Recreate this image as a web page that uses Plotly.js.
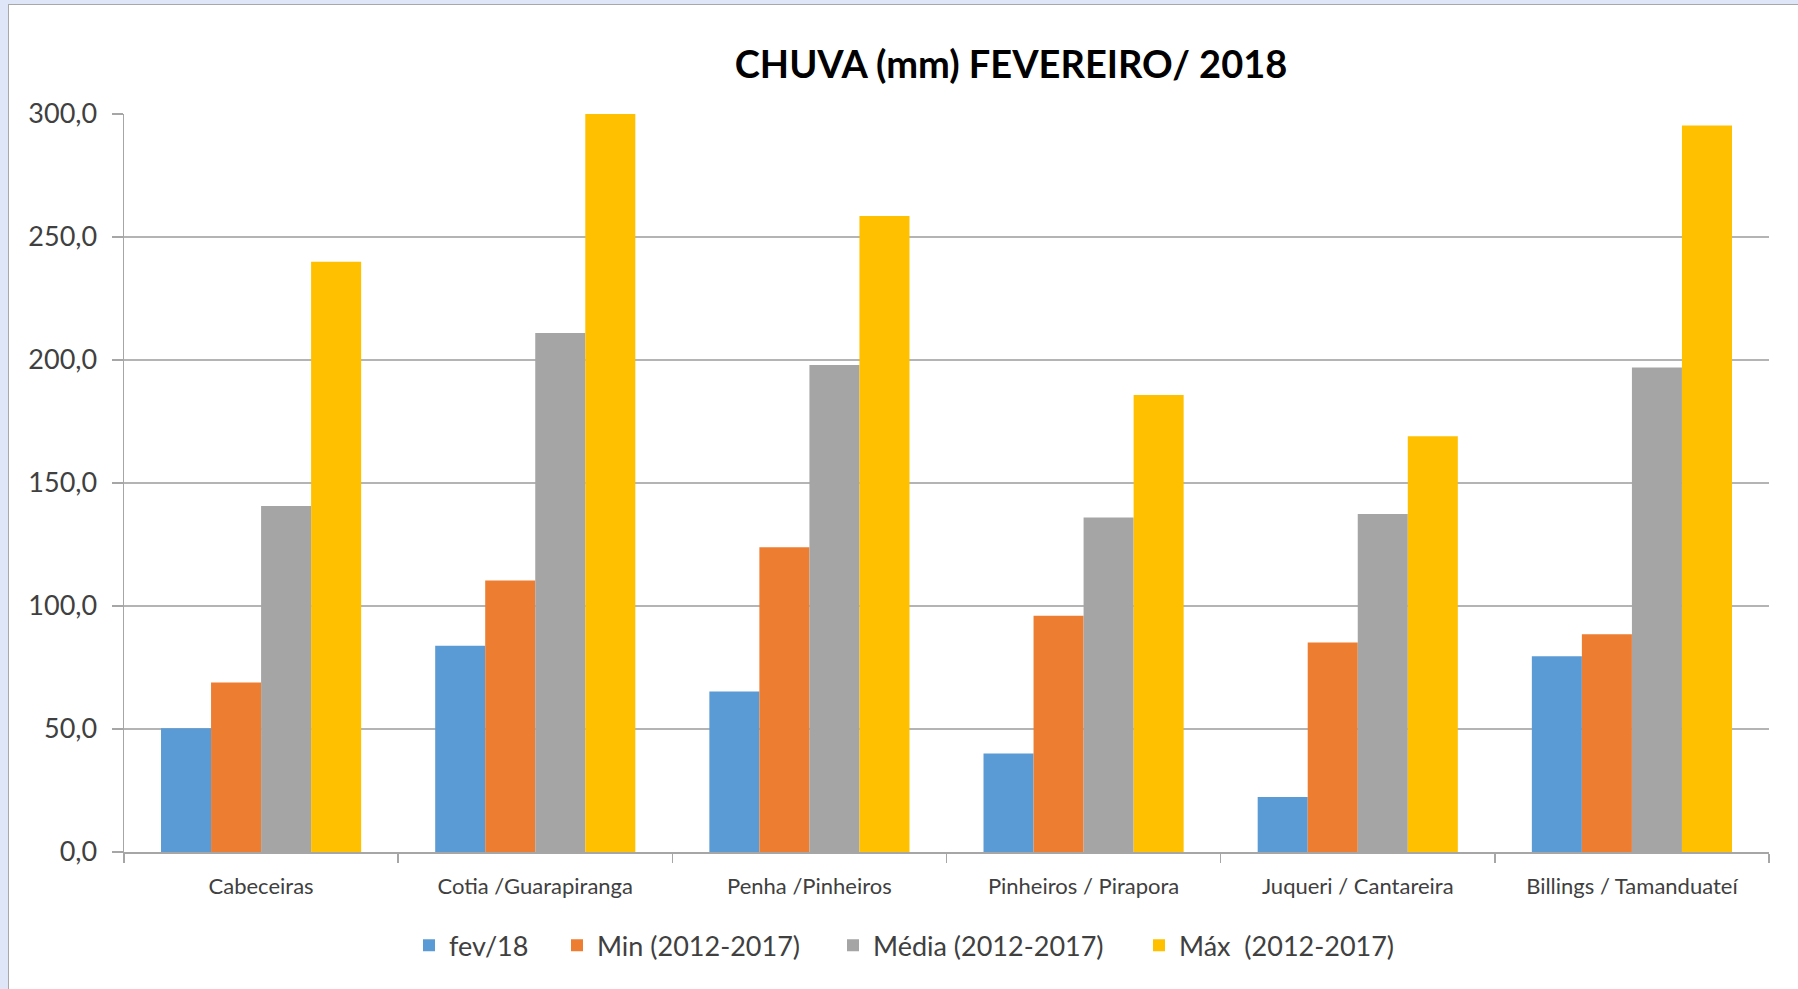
<!DOCTYPE html>
<html>
<head>
<meta charset="utf-8">
<script src="https://cdn.plot.ly/plotly-3.0.1.min.js"></script>
<style>
  html, body { margin: 0; padding: 0; background: #dfe6f7; width: 1798px; height: 989px; overflow: hidden; }
  #painel { position: absolute; left: 8px; top: 4px; right: 0; bottom: 0; background: #ffffff;
            border-top: 1px solid #a8a8a8; border-left: 1px solid #a8a8a8; }
  #grafico { position: absolute; left: 0; top: 0; width: 1798px; height: 989px; }
</style>
</head>
<body>
<div id="painel"></div>
<div id="grafico"></div>
<script>
// categorias (regiões) e valores de chuva em mm
let regioes = ['Cabeceiras', 'Cotia /Guarapiranga', 'Penha /Pinheiros', 'Pinheiros / Pirapora', 'Juqueri / Cantareira', 'Billings / Tamanduateí'];

let chuvaFev18 = [50.3, 83.8, 65.2, 40.0, 22.4, 79.6];
let chuvaMin = [68.9, 110.4, 123.9, 96.0, 85.2, 88.5];
let chuvaMedia = [140.7, 211.0, 198.0, 136.0, 137.4, 197.0];
let chuvaMax = [239.9, 300.0, 258.5, 185.8, 169.0, 295.3];

let fonte = 'Lato, "Open Sans", sans-serif';

// largura da área do gráfico em px, para posicionar cada legenda
let plotLeft = 124;
let plotWidth = 1798 - 124 - 29;

// posição (px) onde começa o texto de cada item da legenda
function legendaX(textoPx) {
    return (textoPx - 40 - plotLeft) / plotWidth;
}

function legenda(textoPx) {
    return {
        orientation: 'h',
        x: legendaX(textoPx),
        xanchor: 'left',
        y: -0.127,
        yanchor: 'middle',
        font: { size: 27, color: '#404040' },
        bgcolor: 'rgba(0,0,0,0)',
        borderwidth: 0
    }
}

var traceFev = {
    x: regioes,
    y: chuvaFev18,
    type: 'bar',
    name: 'fev/18',
    legend: 'legend',
    marker: { color: '#5b9bd5' }
}

var traceMin = {
    x: regioes,
    y: chuvaMin,
    type: 'bar',
    name: 'Min (2012-2017)',
    legend: 'legend2',
    marker: { color: '#ed7d31' }
}

var traceMedia = {
    x: regioes,
    y: chuvaMedia,
    type: 'bar',
    name: 'Média (2012-2017)',
    legend: 'legend3',
    marker: { color: '#a5a5a5' }
}

var traceMax = {
    x: regioes,
    y: chuvaMax,
    type: 'bar',
    name: 'Máx  (2012-2017)',
    legend: 'legend4',
    marker: { color: '#ffc000' }
}

var data = [traceFev, traceMin, traceMedia, traceMax];

var layout = {
    width: 1798,
    height: 989,
    paper_bgcolor: 'rgba(0,0,0,0)',
    plot_bgcolor: '#ffffff',
    separators: ', ',
    font: { family: fonte, color: '#404040' },
    margin: { l: 124, r: 29, t: 114, b: 137 },
    barmode: 'group',
    bargap: 0.27,
    bargroupgap: 0,
    hovermode: false,
    title: {
        text: 'CHUVA (mm) FEVEREIRO/ 2018',
        font: { family: fonte, size: 38, color: '#000000', weight: 'bold' },
        x: 1011 / 1798,
        xanchor: 'center',
        y: 1 - 65 / 989,
        yanchor: 'middle'
    },
    xaxis: {
        type: 'category',
        showline: true,
        linecolor: '#a6a6a6',
        linewidth: 1.5,
        ticks: 'outside',
        tickson: 'boundaries',
        ticklen: 9,
        tickcolor: '#a6a6a6',
        tickwidth: 1.5,
        ticklabelstandoff: 14,
        tickfont: { size: 22, color: '#404040' },
        showgrid: false
    },
    yaxis: {
        range: [0, 300],
        dtick: 50,
        tickformat: '.1f',
        showline: true,
        linecolor: '#a6a6a6',
        linewidth: 1.5,
        ticks: 'outside',
        ticklen: 11,
        tickcolor: '#a6a6a6',
        tickwidth: 1.5,
        ticklabelstandoff: 9,
        tickfont: { size: 27, color: '#404040' },
        gridcolor: '#b4b4b4',
        gridwidth: 1.5,
        zeroline: false
    },
    showlegend: true,
    legend: legenda(449),
    legend2: legenda(597),
    legend3: legenda(873),
    legend4: legenda(1179)
}

Plotly.newPlot('grafico', data, layout, { displayModeBar: false, staticPlot: true });
</script>
</body>
</html>
